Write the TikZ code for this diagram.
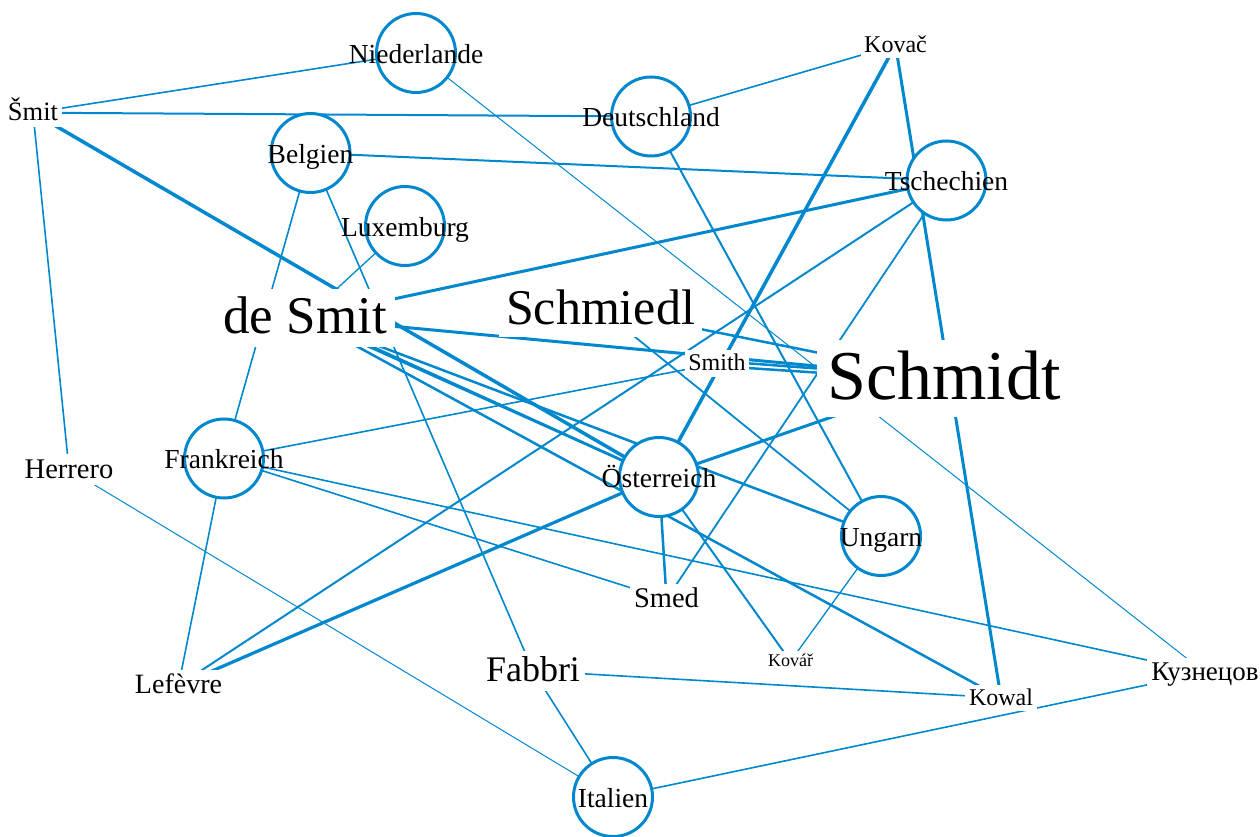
\documentclass[tikz,border=0pt]{standalone}
\usepackage{fontspec}
\setmainfont{Liberation Serif}
\usetikzlibrary{backgrounds}
\definecolor{netblue}{RGB}{0,136,206}
\tikzset{
  surname/.style={fill=white, inner xsep={0.15pt*#1}, inner ysep={0.05pt*#1},
    text height={0.8pt*#1}, text depth={0.2pt*#1}, font=\fontsize{#1pt}{#1pt}\selectfont},
  country/.style={circle, draw=netblue, line width=3pt, fill=white, minimum size=79pt, inner sep=0pt},
  ctext/.style={font=\fontsize{27.5pt}{27.5pt}\selectfont, text height=22pt, text depth=5.5pt,
    inner sep=0pt, yshift=-2pt},
  conn/.style={draw=netblue, line width=#1}
}
\begin{document}
\begin{tikzpicture}[x=1pt,y=-1pt]
\useasboundingbox (0,0) rectangle (1260,837);
% countries
\node[country, label={[ctext]center:Niederlande}] (niederl) at (416,53) {};
\node[country, label={[ctext]center:Deutschland}] (deutsch) at (651,116.5) {};
\node[country, label={[ctext]center:Belgien}] (belg) at (310.5,153) {};
\node[country, label={[ctext]center:Tschechien}] (tsch) at (946.5,180.5) {};
\node[country, label={[ctext]center:Luxemburg}] (lux) at (405,226) {};
\node[country, label={[ctext]center:Frankreich}] (frank) at (224,458.5) {};
\node[country, label={[ctext]center:Österreich}] (oest) at (659,477) {};
\node[country, label={[ctext]center:Ungarn}] (ungarn) at (881,536) {};
\node[country, label={[ctext]center:Italien}] (italien) at (613,797) {};
% surnames
\node[surname=26.5] (smit) at (33,112.7) {Šmit};
\node[surname=24] (kovac) at (895.5,45.1) {Kovač};
\node[surname=53] (desmit) at (305,318) {de Smit};
\node[surname=50] (schmiedl) at (600.5,309) {Schmiedl};
\node[surname=24] (smith) at (717,363.5) {Smith};
\node[surname=70] (schmidt) at (944,378) {Schmidt};
\node[surname=28.5] (herrero) at (69,469.5) {Herrero};
\node[surname=28.5] (smed) at (666.5,599.2) {Smed};
\node[surname=18] (kovar) at (790.5,661.3) {Kovář};
\node[surname=36] (fabbri) at (533,670.9) {Fabbri};
\node[surname=28] (lefevre) at (178.5,685.5) {Lefèvre};
\node[surname=24] (kowal) at (1001,697.8) {Kowal};
\node[surname=27] (kuz) at (1205,672.7) {Кузнецов};
\begin{pgfonlayer}{background}
\draw[conn=1.6pt] (smit.center) -- (niederl.center);
\draw[conn=2pt] (smit.center) -- (deutsch.center);
\draw[conn=3.5pt] (smit.center) -- (oest.center);
\draw[conn=1.6pt] (smit.center) -- (herrero.center);
\draw[conn=1pt] (niederl.center) -- (kuz.center);
\draw[conn=1.6pt] (deutsch.center) -- (kovac.center);
\draw[conn=2pt] (deutsch.center) -- (ungarn.center);
\draw[conn=2pt] (belg.center) -- (tsch.center);
\draw[conn=1.6pt] (belg.center) -- (frank.center);
\draw[conn=1.6pt] (belg.center) -- (fabbri.center);
\draw[conn=1.3pt] (lux.center) -- (desmit.center);
\draw[conn=3pt] (kovac.center) -- (kowal.center);
\draw[conn=3.5pt] (kovac.center) -- (oest.center);
\draw[conn=3pt] (tsch.center) -- (desmit.center);
\draw[conn=2pt] (tsch.center) -- (lefevre.center);
\draw[conn=1.8pt] (tsch.center) -- (smed.center);
\draw[conn=3pt] (schmidt.center) -- (oest.center);
\draw[conn=3pt] (desmit.center) -- (schmidt.center);
\draw[conn=2.5pt] (schmiedl.center) -- (schmidt.center);
\draw[conn=1.8pt] (schmiedl.center) -- (ungarn.center);
\draw[conn=2.5pt] ([yshift=2.5pt]smith.center) -- (schmidt.center);
\draw[conn=2.5pt] ([yshift=-2.5pt]smith.center) -- ([yshift=-3pt]schmidt.center);
\draw[conn=1.6pt] (frank.center) -- (smith.center);
\draw[conn=2.5pt] (desmit.center) -- (oest.center);
\draw[conn=2.5pt] ([xshift=13pt,yshift=-4pt]desmit.center) -- (oest.center);
\draw[conn=2.5pt] (desmit.center) -- (ungarn.center);
\draw[conn=2.5pt] (desmit.center) -- (kowal.center);
\draw[conn=1pt] (herrero.center) -- (italien.center);
\draw[conn=1.6pt] (frank.center) -- (lefevre.center);
\draw[conn=1.6pt] (frank.center) -- (smed.center);
\draw[conn=1.6pt] (frank.center) -- (kuz.center);
\draw[conn=3.2pt] (oest.center) -- (lefevre.center);
\draw[conn=2.5pt] (oest.center) -- (smed.center);
\draw[conn=2pt] (oest.center) -- (kovar.center);
\draw[conn=1.3pt] (ungarn.center) -- (kovar.center);
\draw[conn=1.6pt] (fabbri.center) -- (kowal.center);
\draw[conn=1.6pt] (fabbri.center) -- (italien.center);
\draw[conn=1.6pt] (italien.center) -- (kuz.center);
\end{pgfonlayer}
\end{tikzpicture}
\end{document}
